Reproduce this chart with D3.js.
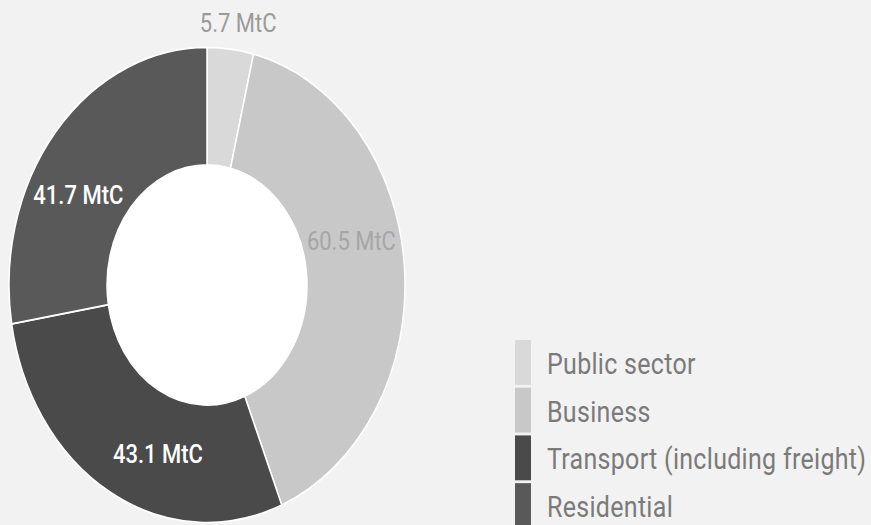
<!DOCTYPE html>
<html>
<head>
<meta charset="utf-8">
<script src="https://cdn.jsdelivr.net/npm/d3@7"></script>
<style>
  body { margin: 0; background: #f2f2f2; }
  svg { display: block; }
</style>
</head>
<body>
<script>
// emissions by sector (MtC)
var categories = ["Public sector", "Business", "Transport (including freight)", "Residential"];
var values = [5.7, 60.5, 43.1, 41.7];
var valueLabels = ["5.7 MtC", "60.5 MtC", "43.1 MtC", "41.7 MtC"];

var colors = ["#d9d9d9", "#c8c8c8", "#4a4a4a", "#595959"];
var labelColors = ["#9a9a9a", "#a6a6a6", "#ffffff", "#ffffff"];

var width = 871,
  height = 525,
  stretch = 1.2;   // the original picture is squashed tall

var cx = 207,
  cy = 285 / stretch,
  outerR = 198,
  innerR = 100;

var svg = d3.select("body").append("svg")
            .attr("width", width)
            .attr("height", height);

svg.append("rect")
   .attr("width", width)
   .attr("height", height)
   .attr("fill", "#f2f2f2");

var root = svg.append("g")
              .attr("transform", "scale(1," + stretch + ")");

var pie = d3.pie().sort(null).value(function(d) { return d; });
var arcs = pie(values);

var arc = d3.arc()
            .innerRadius(innerR)
            .outerRadius(outerR);

var donut = root.append("g")
                .attr("transform", "translate(" + cx + "," + cy + ")");

donut.append("circle")
     .attr("r", innerR)
     .attr("fill", "#ffffff");

donut.selectAll("path")
     .data(arcs)
     .enter()
     .append("path")
     .attr("d", arc)
     .attr("fill", function(d, i) { return colors[i]; })
     .attr("stroke", "#ffffff")
     .attr("stroke-width", 1.5);

// labels: small slices go outside, the rest sit in the ring
var deg = Math.PI / 180;
donut.selectAll("text")
     .data(arcs)
     .enter()
     .append("text")
     .attr("transform", function(d) {
        var mid = (d.startAngle + d.endAngle) / 2;
        var small = (d.endAngle - d.startAngle) < 0.3;
        var p = small ? d3.pointRadial(mid + 1.3 * deg, 221) : d3.pointRadial(mid - 10 * deg, 149);
        return "translate(" + p[0] + "," + p[1] + ")";
     })
     .attr("dy", "0.36em")
     .attr("text-anchor", "middle")
     .style("font-family", "Roboto, sans-serif")
     .style("font-size", "22px")
     .style("font-weight", function(d, i) { return labelColors[i] == "#ffffff" ? 500 : 400; })
     .attr("fill", function(d, i) { return labelColors[i]; })
     .text(function(d, i) { return valueLabels[i]; });

// legend
var legendY = d3.scaleBand()
                .domain(categories)
                .range([340 / stretch, (340 + 4 * 47) / stretch])
                .paddingInner(0.06);

var legend = root.append("g");

legend.selectAll("rect")
      .data(categories)
      .enter()
      .append("rect")
      .attr("x", 515)
      .attr("y", function(d) { return legendY(d); })
      .attr("width", 16)
      .attr("height", legendY.bandwidth())
      .attr("fill", function(d, i) { return colors[i]; });

legend.selectAll("text")
      .data(categories)
      .enter()
      .append("text")
      .attr("x", 547)
      .attr("y", function(d) { return legendY(d) + legendY.bandwidth() / 2; })
      .attr("dy", "0.38em")
      .style("font-family", "Roboto, sans-serif")
      .style("font-size", "25px")
      .style("letter-spacing", "0.3px")
      .attr("fill", "#7a7a7a")
      .text(function(d) { return d; });
</script>
</body>
</html>
